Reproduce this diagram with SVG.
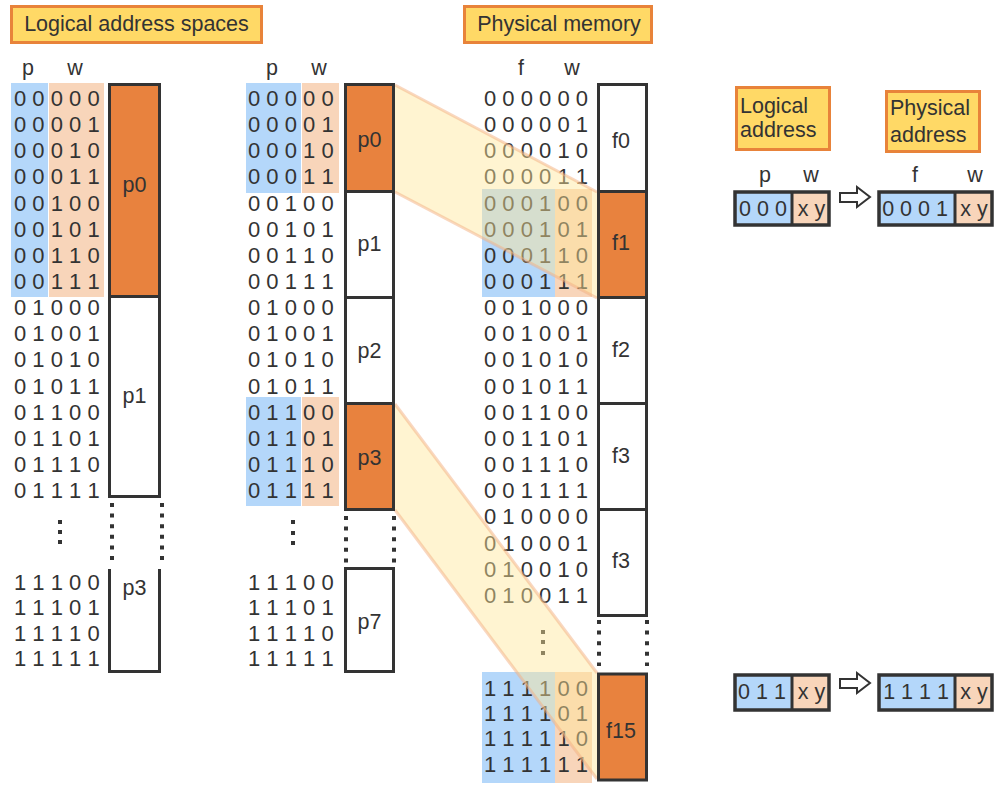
<svg xmlns="http://www.w3.org/2000/svg" width="1003" height="791" viewBox="0 0 1003 791">
<style>
.b{font-family:"Liberation Sans",Arial,sans-serif;font-size:22px;fill:#333}
.l{font-family:"Liberation Sans",Arial,sans-serif;font-size:21.5px;fill:#333}
.m{text-anchor:middle}
.title{fill:#FFD966;stroke:#E8833A;stroke-width:3}
.box{fill:#fff;stroke:#333;stroke-width:3}
.obox{fill:#E8823E;stroke:#333;stroke-width:3}
.blue{fill:#B4D7FA}
.peach{fill:#F8D5BA}
.dots{stroke:#333;stroke-width:4;stroke-dasharray:4 6.6;fill:none}
.band{fill:#FFE699;opacity:.45}
.edge{stroke:#F4B183;stroke-width:3;opacity:.5}
.arrow{fill:#fff;stroke:#333;stroke-width:2}
.abox{fill:none;stroke:#333;stroke-width:3.5}
</style>
<rect width="1003" height="791" fill="#fff"/>

<g id="title-logical">
<rect class="title" x="11.5" y="6.5" width="250" height="36"/>
<text class="l m" x="136.5" y="31">Logical address spaces</text>
</g>
<g id="title-physical">
<rect class="title" x="464.5" y="6.5" width="187" height="36"/>
<text class="l m" x="559" y="31">Physical memory</text>
</g>

<!-- left logical space -->
<g id="left-rows">
<rect class="blue" x="11" y="83" width="37" height="214"/>
<rect class="peach" x="49" y="83" width="55" height="214"/>
<text class="l m" x="28" y="75">p</text>
<text class="l m" x="75" y="75">w</text>
<text class="b" x="14" y="105.9">0 0 0 0 0</text>
<text class="b" x="14" y="132.1">0 0 0 0 1</text>
<text class="b" x="14" y="158.2">0 0 0 1 0</text>
<text class="b" x="14" y="184.4">0 0 0 1 1</text>
<text class="b" x="14" y="210.5">0 0 1 0 0</text>
<text class="b" x="14" y="236.7">0 0 1 0 1</text>
<text class="b" x="14" y="262.8">0 0 1 1 0</text>
<text class="b" x="14" y="289">0 0 1 1 1</text>
<text class="b" x="14" y="315.1">0 1 0 0 0</text>
<text class="b" x="14" y="341.3">0 1 0 0 1</text>
<text class="b" x="14" y="367.4">0 1 0 1 0</text>
<text class="b" x="14" y="393.6">0 1 0 1 1</text>
<text class="b" x="14" y="419.7">0 1 1 0 0</text>
<text class="b" x="14" y="445.9">0 1 1 0 1</text>
<text class="b" x="14" y="472">0 1 1 1 0</text>
<text class="b" x="14" y="498.2">0 1 1 1 1</text>
<g fill="#333"><rect x="58" y="520" width="4" height="4"/><rect x="58" y="530" width="4" height="4"/><rect x="58" y="540" width="4" height="4"/></g>
<text class="b" x="14" y="589.9">1 1 1 0 0</text>
<text class="b" x="14" y="614.9">1 1 1 0 1</text>
<text class="b" x="14" y="640.9">1 1 1 1 0</text>
<text class="b" x="14" y="665.9">1 1 1 1 1</text>
</g>

<!-- middle logical space -->
<g id="mid-rows">
<rect class="blue" x="246" y="83" width="55" height="110"/>
<rect class="peach" x="302" y="83" width="37" height="110"/>
<rect class="blue" x="246" y="397" width="55" height="109"/>
<rect class="peach" x="302" y="397" width="37" height="109"/>
<text class="l m" x="272" y="75">p</text>
<text class="l m" x="319" y="75">w</text>
<text class="b" x="248" y="105.9">0 0 0 0 0</text>
<text class="b" x="248" y="132.1">0 0 0 0 1</text>
<text class="b" x="248" y="158.2">0 0 0 1 0</text>
<text class="b" x="248" y="184.4">0 0 0 1 1</text>
<text class="b" x="248" y="210.5">0 0 1 0 0</text>
<text class="b" x="248" y="236.7">0 0 1 0 1</text>
<text class="b" x="248" y="262.8">0 0 1 1 0</text>
<text class="b" x="248" y="289">0 0 1 1 1</text>
<text class="b" x="248" y="315.1">0 1 0 0 0</text>
<text class="b" x="248" y="341.3">0 1 0 0 1</text>
<text class="b" x="248" y="367.4">0 1 0 1 0</text>
<text class="b" x="248" y="393.6">0 1 0 1 1</text>
<text class="b" x="248" y="419.7">0 1 1 0 0</text>
<text class="b" x="248" y="445.9">0 1 1 0 1</text>
<text class="b" x="248" y="472">0 1 1 1 0</text>
<text class="b" x="248" y="498.2">0 1 1 1 1</text>
<g fill="#333"><rect x="291" y="520" width="4" height="4"/><rect x="291" y="531" width="4" height="4"/><rect x="291" y="541" width="4" height="4"/></g>
<text class="b" x="248" y="589.9">1 1 1 0 0</text>
<text class="b" x="248" y="614.9">1 1 1 0 1</text>
<text class="b" x="248" y="640.9">1 1 1 1 0</text>
<text class="b" x="248" y="665.9">1 1 1 1 1</text>
</g>

<!-- physical memory rows -->
<g id="phys-rows">
<rect class="blue" x="482" y="189" width="73" height="108"/>
<rect class="peach" x="555" y="189" width="37" height="108"/>
<rect class="blue" x="482" y="672" width="73" height="111"/>
<rect class="peach" x="555" y="672" width="37" height="111"/>
<text class="l m" x="521" y="75">f</text>
<text class="l m" x="572" y="75">w</text>
<text class="b" x="484" y="105.9">0 0 0 0 0 0</text>
<text class="b" x="484" y="132.1">0 0 0 0 0 1</text>
<text class="b" x="484" y="158.2">0 0 0 0 1 0</text>
<text class="b" x="484" y="184.4">0 0 0 0 1 1</text>
<text class="b" x="484" y="210.5">0 0 0 1 0 0</text>
<text class="b" x="484" y="236.7">0 0 0 1 0 1</text>
<text class="b" x="484" y="262.8">0 0 0 1 1 0</text>
<text class="b" x="484" y="289">0 0 0 1 1 1</text>
<text class="b" x="484" y="315.1">0 0 1 0 0 0</text>
<text class="b" x="484" y="341.3">0 0 1 0 0 1</text>
<text class="b" x="484" y="367.4">0 0 1 0 1 0</text>
<text class="b" x="484" y="393.6">0 0 1 0 1 1</text>
<text class="b" x="484" y="419.7">0 0 1 1 0 0</text>
<text class="b" x="484" y="445.9">0 0 1 1 0 1</text>
<text class="b" x="484" y="472">0 0 1 1 1 0</text>
<text class="b" x="484" y="498.2">0 0 1 1 1 1</text>
<text class="b" x="484" y="524.3">0 1 0 0 0 0</text>
<text class="b" x="484" y="550.5">0 1 0 0 0 1</text>
<text class="b" x="484" y="576.6">0 1 0 0 1 0</text>
<text class="b" x="484" y="602.8">0 1 0 0 1 1</text>
<g fill="#333"><rect x="541" y="630" width="4" height="4"/><rect x="541" y="640" width="4" height="4"/><rect x="541" y="651" width="4" height="4"/></g>
<text class="b" x="484" y="695.9">1 1 1 1 0 0</text>
<text class="b" x="484" y="720.9">1 1 1 1 0 1</text>
<text class="b" x="484" y="745.9">1 1 1 1 1 0</text>
<text class="b" x="484" y="771.9">1 1 1 1 1 1</text>
</g>

<!-- mapping bands -->
<g id="connectors">
<polygon class="band" points="395,85 597,192 597,298 395,192"/>
<line class="edge" x1="395" y1="85" x2="597" y2="192"/>
<line class="edge" x1="395" y1="192" x2="597" y2="298"/>
<polygon class="band" points="395,404 597,673 597,779 395,510"/>
<line class="edge" x1="395" y1="404" x2="597" y2="673"/>
<line class="edge" x1="395" y1="510" x2="597" y2="779"/>
<polygon class="arrow" points="840,193 857,193 857,187 870,197 857,207 857,202 840,202"/>
<polygon class="arrow" points="840,679 857,679 857,673 870,683 857,693 857,688 840,688"/>
</g>

<!-- left page boxes -->
<g id="L-p0"><rect class="obox" x="109.5" y="84.5" width="50" height="212"/><text class="l m" x="134.5" y="192">p0</text></g>
<g id="L-p1"><rect class="box" x="109.5" y="296.5" width="50" height="200"/><text class="l m" x="134.5" y="403">p1</text></g>
<g id="L-gap"><line class="dots" x1="112" y1="503" x2="112" y2="562"/><line class="dots" x1="162" y1="503" x2="162" y2="562"/></g>
<g id="L-p3"><path d="M109.5 569V671.5H159.5V569" fill="#fff" stroke="#333" stroke-width="3"/><text class="l m" x="134.5" y="595">p3</text></g>

<!-- middle page boxes -->
<g id="M-p0"><rect class="obox" x="345.5" y="84.5" width="48" height="107"/><text class="l m" x="369.5" y="147">p0</text></g>
<g id="M-p1"><rect class="box" x="345.5" y="191.5" width="48" height="106"/><text class="l m" x="369.5" y="251">p1</text></g>
<g id="M-p2"><rect class="box" x="345.5" y="297.5" width="48" height="106"/><text class="l m" x="369.5" y="358">p2</text></g>
<g id="M-p3"><rect class="obox" x="345.5" y="403.5" width="48" height="106"/><text class="l m" x="369.5" y="465">p3</text></g>
<g id="M-gap"><line class="dots" x1="346" y1="516" x2="346" y2="563"/><line class="dots" x1="394" y1="516" x2="394" y2="563"/></g>
<g id="M-p7"><rect class="box" x="345.5" y="568.5" width="48" height="103"/><text class="l m" x="369.5" y="629">p7</text></g>

<!-- physical frames -->
<g id="F-f0"><rect class="box" x="598.5" y="84.5" width="48" height="107"/><text class="l m" x="621" y="148">f0</text></g>
<g id="F-f1"><rect class="obox" x="598.5" y="191.5" width="48" height="106"/><text class="l m" x="621" y="250">f1</text></g>
<g id="F-f2"><rect class="box" x="598.5" y="297.5" width="48" height="106"/><text class="l m" x="621" y="357">f2</text></g>
<g id="F-f3"><rect class="box" x="598.5" y="403.5" width="48" height="106"/><text class="l m" x="621" y="463">f3</text></g>
<g id="F-f3b"><rect class="box" x="598.5" y="509.5" width="48" height="106"/><text class="l m" x="621" y="568">f3</text></g>
<g id="F-gap"><line class="dots" x1="599" y1="620" x2="599" y2="666"/><line class="dots" x1="647" y1="620" x2="647" y2="666"/></g>
<g id="F-f15"><rect class="obox" x="598.5" y="674" width="48" height="106"/><text class="l m" x="621" y="738">f15</text></g>

<!-- address translation -->
<g id="label-logical">
<rect class="title" x="736.5" y="87.5" width="93" height="62"/>
<text class="l" x="740" y="113">Logical</text>
<text class="l" x="740" y="137">address</text>
</g>
<g id="label-physical">
<rect class="title" x="886.5" y="91.5" width="93" height="60"/>
<text class="l" x="890" y="115">Physical</text>
<text class="l" x="890" y="142">address</text>
</g>
<g id="addr-logical-1">
<text class="l m" x="765" y="182">p</text>
<text class="l m" x="811" y="182">w</text>
<rect class="blue" x="735" y="192" width="57" height="33"/>
<rect class="peach" x="792" y="192" width="37" height="33"/>
<rect class="abox" x="735" y="192" width="94" height="33"/>
<line x1="792" y1="192" x2="792" y2="225" stroke="#333" stroke-width="3"/>
<text class="l m" x="763" y="215.5">0 0 0</text>
<text class="l m" x="811.5" y="215.5">x y</text>
</g>
<g id="addr-physical-1">
<text class="l m" x="915" y="182">f</text>
<text class="l m" x="975" y="182">w</text>
<rect class="blue" x="879" y="192" width="76" height="33"/>
<rect class="peach" x="955" y="192" width="37" height="33"/>
<rect class="abox" x="879" y="192" width="113" height="33"/>
<line x1="955" y1="192" x2="955" y2="225" stroke="#333" stroke-width="3"/>
<text class="l m" x="915" y="215.5">0 0 0 1</text>
<text class="l m" x="974" y="215.5">x y</text>
</g>
<g id="addr-logical-2">
<rect class="blue" x="735" y="675" width="57" height="35"/>
<rect class="peach" x="792" y="675" width="37" height="35"/>
<rect class="abox" x="735" y="675" width="94" height="35"/>
<line x1="792" y1="675" x2="792" y2="710" stroke="#333" stroke-width="3"/>
<text class="l m" x="762" y="699">0 1 1</text>
<text class="l m" x="811.5" y="699">x y</text>
</g>
<g id="addr-physical-2">
<rect class="blue" x="879" y="675" width="76" height="35"/>
<rect class="peach" x="955" y="675" width="37" height="35"/>
<rect class="abox" x="879" y="675" width="113" height="35"/>
<line x1="955" y1="675" x2="955" y2="710" stroke="#333" stroke-width="3"/>
<text class="l m" x="916" y="699">1 1 1 1</text>
<text class="l m" x="974" y="699">x y</text>
</g>
</svg>
